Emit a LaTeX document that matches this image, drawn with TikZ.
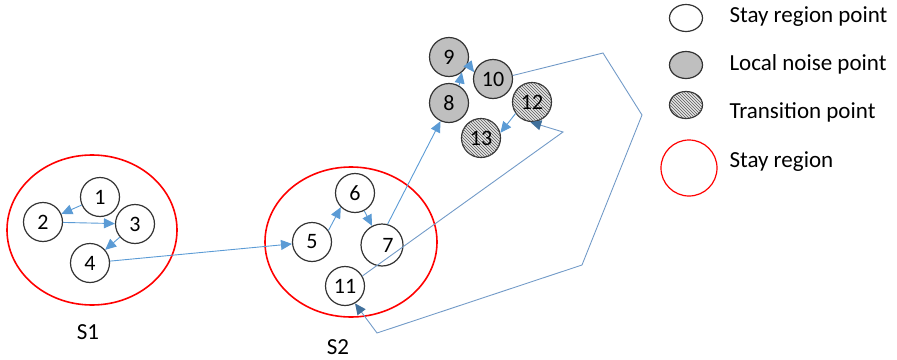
\documentclass[tikz,border=0pt]{standalone}
\usepackage{fontspec}
\setmainfont{Carlito}
\usetikzlibrary{arrows.meta,patterns,shapes.geometric}
\definecolor{arrblue}{RGB}{91,155,213}
\definecolor{pathblue}{RGB}{115,155,200}
\definecolor{tipblue}{RGB}{65,113,156}
\begin{document}
\begin{tikzpicture}[x=1pt,y=-1pt,
 pt/.style={circle,draw=black!80,line width=1.2pt,minimum size=39pt,inner sep=0pt,font=\fontsize{22}{22}\selectfont},
 stay/.style={pt,fill=white},
 noise/.style={pt,fill=gray!50},
 trans/.style={pt,fill=gray!20,postaction={pattern=north west lines,pattern color=gray!70!black}},
 region/.style={draw=red,line width=1.6pt},
 arr/.style={draw=arrblue,line width=0.9pt,-{Triangle[length=11pt,width=10pt]}},
 arrd/.style={draw=pathblue,line width=0.9pt,-{Triangle[length=11pt,width=10pt,color=tipblue]}},
 lbl/.style={font=\fontsize{23}{23}\selectfont},
 leg/.style={anchor=west,font=\fontsize{23}{23}\selectfont},
 legsh/.style={ellipse,minimum width=33pt,minimum height=27pt}
]
\useasboundingbox (0,0) rectangle (897,359);
% stay regions
\draw[region] (92,230) ellipse [x radius=85, y radius=75];
\draw[region] (351,242) ellipse [x radius=86, y radius=75];
\node[lbl] (s1) at (88,332) {S1};
\node[lbl] (s2) at (338,347) {S2};
% points
\node[stay] (n1) at (100,197) {1};
\node[stay] (n2) at (43,222) {2};
\node[stay] (n3) at (135,224) {3};
\node[stay] (n4) at (90,263) {4};
\node[stay] (n5) at (312,242) {5};
\node[stay] (n6) at (355,193) {6};
\node[stay,minimum size=42pt] (n7) at (382,245) {\hspace{12pt}7};
\node[stay] (n11) at (345,286) {11};
\node[noise] (n9) at (449,57) {9};
\node[noise] (n10) at (493,79) {10};
\node[noise] (n8) at (449,103) {8};
\node[trans] (n12) at (532,102) {12};
\node[trans] (n13) at (481,138) {13};
% connectors
\draw[arr] (n1) -- (n2);
\draw[arr] (n2) -- (n3);
\draw[arr] (n3) -- (n4);
\draw[arr] (n4) -- (n5);
\draw[arr] (n5.35) -- (n6.225);
\draw[arr] (n6) -- (n7);
\draw[arr] (n7.75) -- (n8.245);
\draw[arr] (n8.60) -- (n9.-50);
\draw[arr] (n9.-20) -- (n10.160);
\coordinate (h1) at (603,53);
\coordinate (h2) at (642,115);
\coordinate (h3) at (582,265);
\coordinate (h4) at (377,333);
\draw[arrd] (n10.10) -- (h1) -- (h2) -- (h3) -- (h4) -- (n11.-60);
\coordinate (k1) at (563,132);
\draw[arrd] (n11.30) -- (k1) -- (n12.-95);
\draw[arr] (n12.215) -- (n13.15);
% legend
\node[stay,legsh] (l1) at (686,18) {};
\node[noise,legsh] (l2) at (686,65) {};
\node[trans,legsh] (l3) at (686,105) {};
\draw[region,line width=1.2pt] (689,168) ellipse [x radius=28, y radius=28];
\node[leg] (t1) at (726,17) {Stay region point};
\node[leg] (t2) at (726,64) {Local noise point};
\node[leg] (t3) at (726,112) {Transition point};
\node[leg] (t4) at (726,162) {Stay region};
\end{tikzpicture}
\end{document}
